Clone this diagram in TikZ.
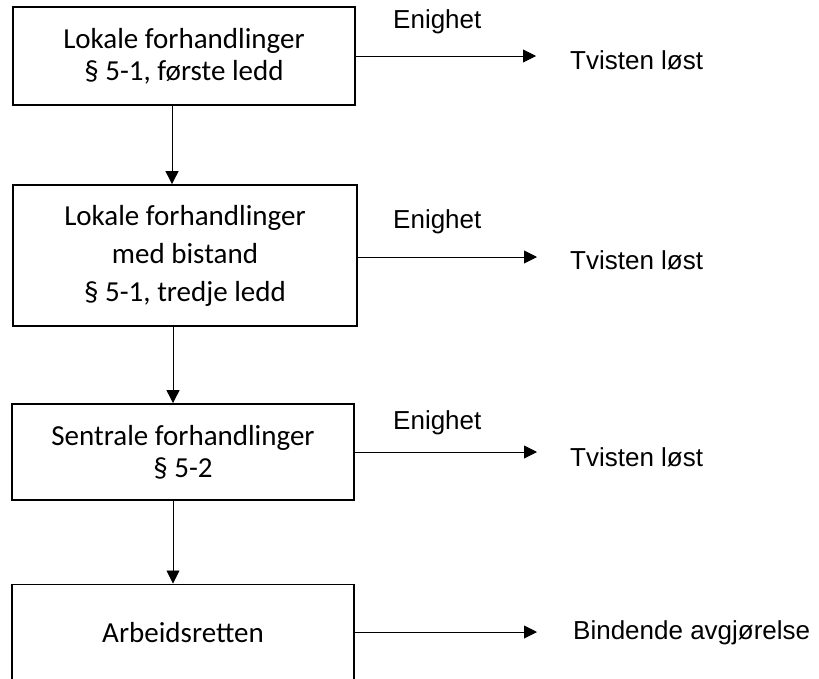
\documentclass[tikz,border=0pt]{standalone}
\usepackage{fontspec}
\setmainfont{Carlito}
\newfontfamily\arialf{Liberation Sans}
\usetikzlibrary{arrows.meta}
\begin{document}
\begin{tikzpicture}[x=1pt,y=1pt,
  box/.style={draw, line width=1.8pt, minimum width=342pt, inner sep=0pt, align=center},
  flow/.style={line width=0.9pt, -{Triangle[length=13pt,width=13pt]}},
  lab/.style={font=\arialf\fontsize{26}{30}\selectfont, inner sep=0pt, anchor=west}]
\useasboundingbox (0,0) rectangle (819,-678);

\node[box, minimum height=98pt, font=\fontsize{29}{32}\selectfont] (b1) at (184,-56)
  {Lokale forhandlinger\\§ 5-1, første ledd};
\node[box, minimum height=141pt, minimum width=344pt, font=\fontsize{29}{38}\selectfont] (b2) at (185,-255.5)
  {Lokale forhandlinger\\med bistand\\§ 5-1, tredje ledd};
\node[box, minimum height=96pt, font=\fontsize{29}{32}\selectfont] (b3) at (183,-452)
  {Sentrale forhandlinger\\§ 5-2};
\node[box, minimum height=108pt, anchor=north, font=\fontsize{29}{32}\selectfont] (b4) at (183,-583.5)
  {\raisebox{11pt}{Arbeidsretten}};

\node[lab] (e1) at (393,-22) {Enighet};
\node[lab] (e2) at (393,-222) {Enighet};
\node[lab] (e3) at (393,-423) {Enighet};

\node[lab] (t1) at (570,-60) {Tvisten løst};
\node[lab] (t2) at (570,-260) {Tvisten løst};
\node[lab] (t3) at (570,-457) {Tvisten løst};
\node[lab] (t4) at (573,-633) {Bindende avgjørelse};

\coordinate (a1) at (536,-56);
\coordinate (a2) at (537,-257);
\coordinate (a3) at (537,-452);
\coordinate (a4) at (537,-632);

\draw[flow] (b1.east) -- (a1);
\draw[flow] (b2.east |- a2) -- (a2);
\draw[flow] (b3.east) -- (a3);
\draw[flow] (b4.east |- a4) -- (a4);

\draw[flow] ([xshift=-12pt]b1.south) -- ([xshift=-12pt]b1.south |- b2.north);
\draw[flow] ([xshift=-12pt]b2.south) -- ([xshift=-12pt]b2.south |- b3.north);
\draw[flow] ([xshift=-10pt]b3.south) -- ([xshift=-10pt]b3.south |- b4.north);
\end{tikzpicture}
\end{document}
